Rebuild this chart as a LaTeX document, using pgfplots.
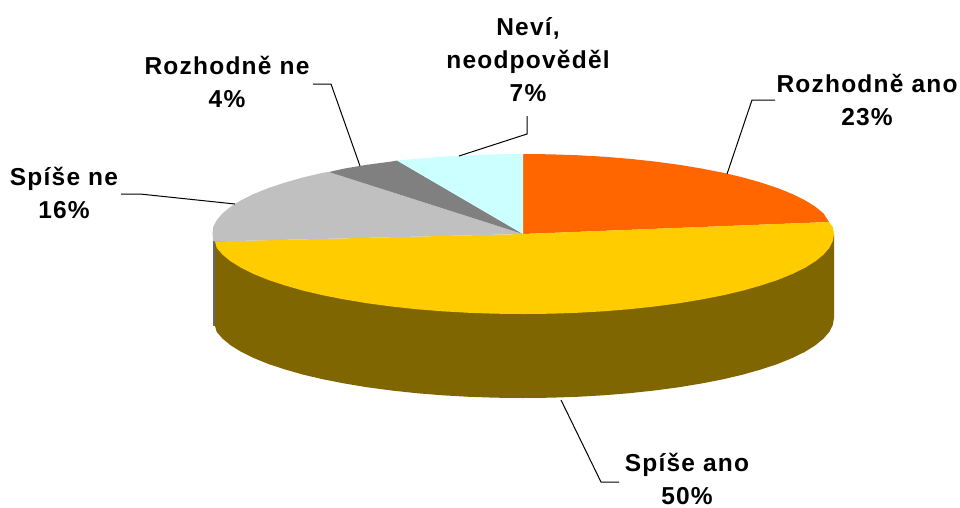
\documentclass[border=0pt]{standalone}
\usepackage{pgfplots}
\pgfplotsset{compat=1.18}
\usepackage{fontspec}
\setmainfont[LetterSpace=5]{Liberation Sans}
\definecolor{cOrange}{HTML}{FF6600}
\definecolor{cYellow}{HTML}{FFCC00}
\definecolor{cGray}{HTML}{C0C0C0}
\definecolor{cDark}{HTML}{808080}
\definecolor{cCyan}{HTML}{CCFFFF}
\definecolor{cWall}{HTML}{806600}
\definecolor{cEdge}{HTML}{606878}
\tikzset{
    lbl/.style={font=\bfseries\fontsize{24.5}{33}\selectfont, align=center, anchor=center, inner sep=0pt},
    lead/.style={draw=black, line width=1pt, fill=none},
}
\begin{document}
\begin{tikzpicture}
\begin{axis}[
    scale only axis, width=960pt, height=507pt,
    xmin=0, xmax=960, ymin=0, ymax=507,
    y dir=reverse,
    hide axis,
    clip=false,
    every axis plot/.append style={no markers},
]
% keeps the page at the full frame
\path (axis cs:0,0) rectangle (axis cs:960,507);
% side wall
\addplot[fill=cWall, draw=none] coordinates {
(834,234)(834,318)(832.8,325)(829.3,331.9)(823.4,338.7)(815.2,345.4)(804.9,351.8)(792.3,358)
(777.8,363.9)(761.2,369.4)(742.9,374.6)(722.9,379.3)(701.4,383.5)(678.5,387.3)(654.4,390.5)
(629.4,393.2)(603.5,395.3)(577,396.8)(550.1,397.7)(523,398)(495.9,397.7)(469,396.8)(442.5,395.3)
(416.6,393.2)(391.6,390.5)(367.5,387.3)(344.6,383.5)(323.1,379.3)(303.1,374.6)(284.8,369.4)
(268.2,363.9)(253.7,358)(241.1,351.8)(230.8,345.4)(222.6,338.7)(216.7,331.9)(215,326)(215,241.5)
} --cycle;
\addplot[draw=cEdge, line width=1.6pt] coordinates {(214,241)(214,326)};
% Rozhodne ano 23
\addplot[fill=cOrange, draw=none] coordinates {
(523,234)(523,154)(550.1,154.3)(577,155.2)(603.5,156.7)(629.4,158.8)(654.4,161.5)(678.5,164.7)
(701.4,168.5)(722.9,172.7)(742.9,177.4)(761.2,182.6)(777.8,188.1)(792.3,194)(804.9,200.2)
(815.2,206.6)(823.4,213.3)(829,222)
} --cycle;
% Spise ano 50
\addplot[fill=cYellow, draw=none] coordinates {
(523,234)(829,222)(832.8,227)(834,234)(832.8,241)(829.3,247.9)(823.4,254.7)(815.2,261.4)
(804.9,267.8)(792.3,274)(777.8,279.9)(761.2,285.4)(742.9,290.6)(722.9,295.3)(701.4,299.5)
(678.5,303.3)(654.4,306.5)(629.4,309.2)(603.5,311.3)(577,312.8)(550.1,313.7)(523,314)
(495.9,313.7)(469,312.8)(442.5,311.3)(416.6,309.2)(391.6,306.5)(367.5,303.3)(344.6,299.5)
(323.1,295.3)(303.1,290.6)(284.8,285.4)(268.2,279.9)(253.7,274)(241.1,267.8)(230.8,261.4)
(222.6,254.7)(216.7,247.9)(215,241.5)
} --cycle;
% Spise ne 16
\addplot[fill=cGray, draw=none] coordinates {
(523,234)(215,241.5)(213.2,241)(212.5,234)(213.2,227)(216.7,220.1)(222.6,213.3)(230.8,206.6)
(241.1,200.2)(253.7,194)(268.2,188.1)(284.8,182.6)(303.1,177.4)(323.1,172.7)(329,172)
} --cycle;
% Rozhodne ne 4
\addplot[fill=cDark, draw=none] coordinates {
(523,234)(329,172)(344.6,168.5)(367.5,164.7)(391.6,161.5)(397,160.5)
} --cycle;
% Nevi 7
\addplot[fill=cCyan, draw=none] coordinates {
(523,234)(397,160.5)(416.6,158.8)(442.5,156.7)(469,155.2)(495.9,154.3)(523,154)
} --cycle;
% leader lines
\addplot[lead] coordinates {(727,174)(752,100)(775,100)};
\addplot[lead] coordinates {(561,400)(601,482)(619,482)};
\addplot[lead] coordinates {(235,204)(140,194)(121,194)};
\addplot[lead] coordinates {(360,166)(331,84)(313,84)};
\addplot[lead] coordinates {(459,156)(527,134)(527,116)};
% labels
\node[lbl] at (axis cs:867,100) {Rozhodně ano\\23\%};
\node[lbl] at (axis cs:687,479) {Spíše ano\\50\%};
\node[lbl] at (axis cs:64,193) {Spíše ne\\16\%};
\node[lbl] at (axis cs:227,82) {Rozhodně ne\\4\%};
\node[lbl] at (axis cs:528,60) {Neví,\\neodpověděl\\7\%};
\end{axis}
\end{tikzpicture}
\end{document}
